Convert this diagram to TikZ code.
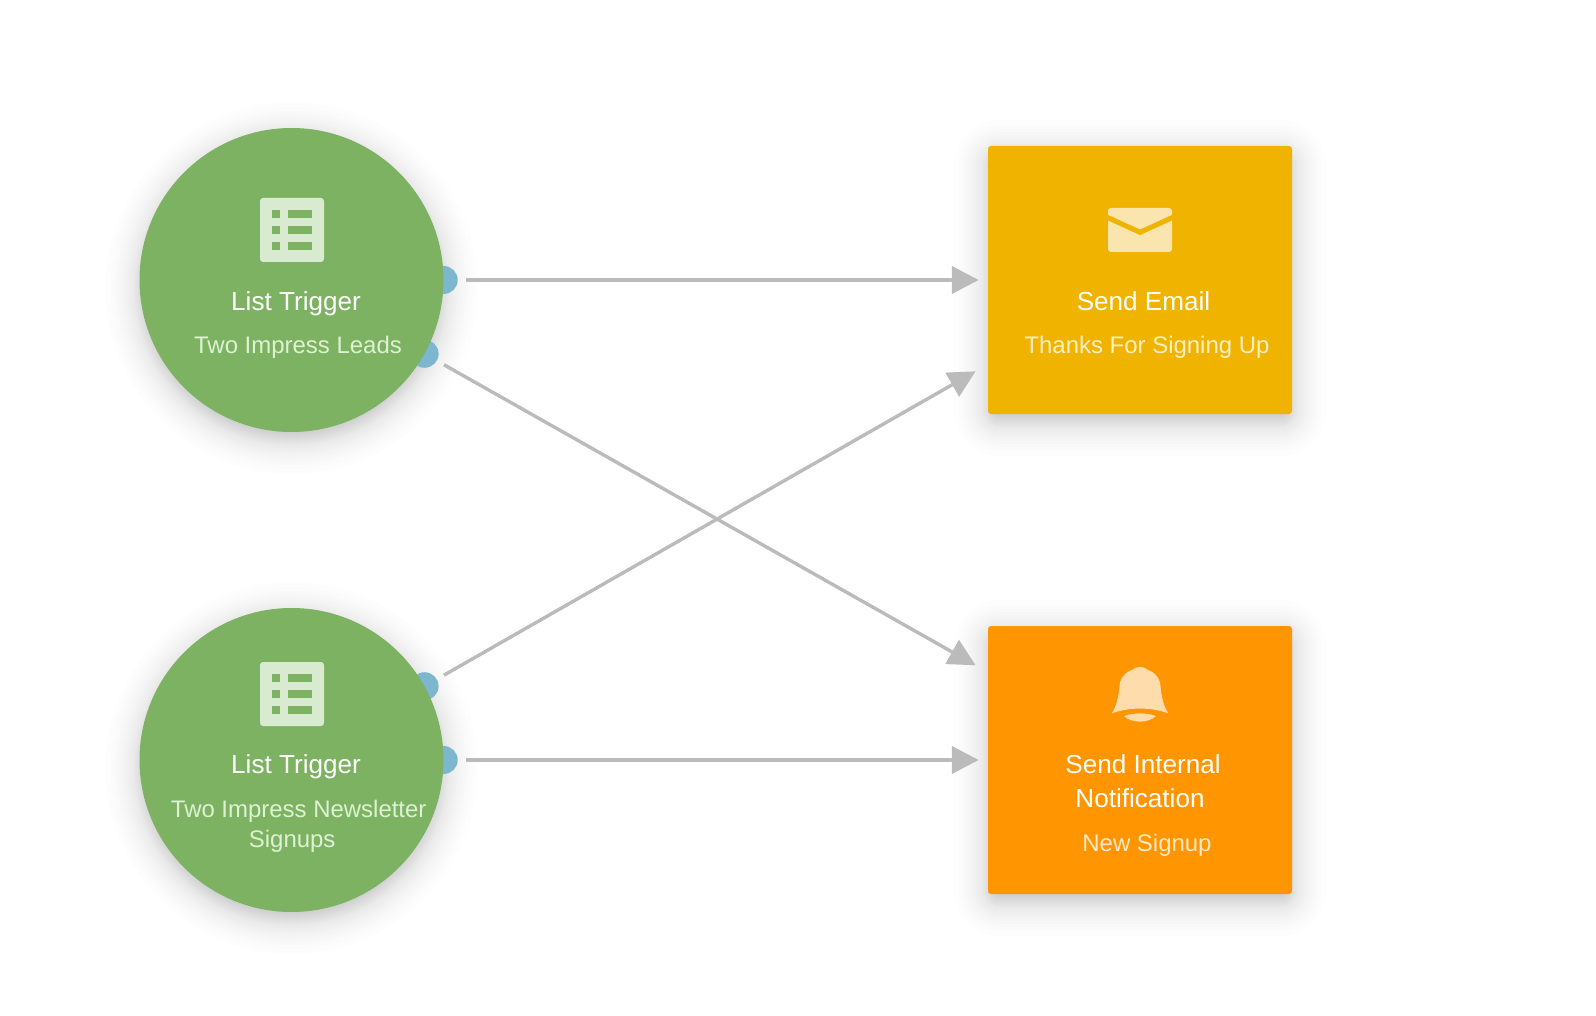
\documentclass[tikz,border=0pt]{standalone}
\usepackage{fontspec}
\setmainfont{Liberation Sans}
\usepackage{xcolor}
\usetikzlibrary{positioning, backgrounds}
\usetikzlibrary{arrows.meta}
\tikzset{>={Triangle[width=27pt,length=27pt]}}
\definecolor{triggergreen}{HTML}{7CB261}
\definecolor{mailyellow}{HTML}{F0B300}
\definecolor{alertorange}{HTML}{FF9500}
\definecolor{portblue}{HTML}{7CB7CF}
\definecolor{flowgray}{HTML}{BBBBBB}
\definecolor{greenpale}{HTML}{D8EBD0}
\definecolor{yellowpale}{HTML}{FBE5AE}
\definecolor{orangepale}{HTML}{FFDCAB}
\definecolor{notegreen}{HTML}{DDF2D3}
\definecolor{noteyellow}{HTML}{FFF0C4}
\definecolor{noteorange}{HTML}{FFE9C6}

\begin{document}
\begin{tikzpicture}[x=1pt, y=-1pt,
    trigger/.style={circle, fill=triggergreen, inner sep=0pt, minimum size=304pt},
    action/.style={rectangle, rounded corners=3pt, inner sep=0pt, minimum width=304pt, minimum height=268pt},
    port/.style={circle, fill=portblue, inner sep=0pt, minimum size=28pt},
    title/.style={anchor=base, inner sep=0pt, text=white, align=center, font=\fontsize{26.1}{34}\selectfont},
    note/.style={anchor=base, inner sep=0pt, align=center, font=\fontsize{23.95}{30}\selectfont},
    flow/.style={->, draw=flowgray, fill=flowgray, line width=4pt, shorten <=8pt, shorten >=9pt},
    crossflow/.style={flow, line width=3.4pt, shorten >=14pt},
    softshadow/.style={black, opacity=0.007},
    listicon/.pic={
        \fill[greenpale, rounded corners=3pt] (-32,-32) rectangle (32,32);
        \foreach \row in {-20,-4,12} {
            \fill[triggergreen] (-20,\row) rectangle (-12,\row+8);
            \fill[triggergreen] (-4,\row) rectangle (20,\row+8);
        }
    },
    mailicon/.pic={
        \fill[yellowpale, rounded corners=3pt] (-32,-22) rectangle (32,22);
        \draw[mailyellow, line width=5pt] (-34,-13.2) -- (0,2.3) -- (34,-13.2);
    },
    bellicon/.pic={
        \fill[orangepale] (-28.3,19.3) .. controls (-24,13) and (-21.5,4) .. (-20.5,-8)
            .. controls (-20,-18) and (-12,-23) .. (-7,-24.5)
            .. controls (-4,-28) and (4,-28) .. (7,-24.5)
            .. controls (12,-23) and (20,-18) .. (20.5,-8)
            .. controls (21.5,4) and (24,13) .. (28.3,19.3)
            .. controls (10,13) and (-10,13) .. cycle;
        \fill[orangepale] (-16,22) .. controls (-6,18.5) and (6,18.5) .. (16,22)
            .. controls (8,29.5) and (-8,29.5) .. cycle;
    }]

    \path[use as bounding box] (0,0) rectangle (1596,1016);

    %Nodes
    \node[trigger](leads) at (291.5,280){};
    \node[trigger](signups) at (291.5,760){};
    \node[action, fill=mailyellow](email) at (1140,280){};
    \node[action, fill=alertorange](notify) at (1140,760){};

    %Shadows and ports
    \begin{scope}[on background layer]
        \fill[white] (0,0) rectangle (1596,1016);
        \foreach \g in {1,2,3,4,5,6,7,8,9,10,11,12,13,14,15,16,17,18,20,22,24,26,28,31,34,37,41,46} {
            \fill[softshadow] ([yshift=-8pt]leads.center) circle (140+\g);
            \fill[softshadow] ([yshift=-8pt]signups.center) circle (140+\g);
            \fill[softshadow, rounded corners=\g] ([xshift=12pt-\g*1pt, yshift=\g*1pt-20pt]email.north west) rectangle ([xshift=\g*1pt-12pt, yshift=4pt-\g*1pt]email.south east);
            \fill[softshadow, rounded corners=\g] ([xshift=12pt-\g*1pt, yshift=\g*1pt-20pt]notify.north west) rectangle ([xshift=\g*1pt-12pt, yshift=4pt-\g*1pt]notify.south east);
        }
        \node[port](leads_east) at (leads.east){};
        \node[port](leads_low) at (leads.-29.4){};
        \node[port](signups_high) at (signups.29.4){};
        \node[port](signups_east) at (signups.east){};
    \end{scope}

    %Icons
    \pic at (292,230) {listicon};
    \pic at (292,694) {listicon};
    \pic at (1140,230) {mailicon};
    \pic at (1140,694) {bellicon};

    %Texts
    \node[title](leads_title) at (296,310.5){List Trigger};
    \node[note, text=notegreen](leads_note) at (298,353){Two Impress Leads};
    \node[title](signups_title) at (296,773.5){List Trigger};
    \node[note, text=notegreen](signups_note) at (298.7,847.5){Two Impress Newsletter\\\hspace*{-13pt}Signups};
    \node[title](email_title) at (1143.5,310.5){Send Email};
    \node[note, text=noteyellow](email_note) at (1147,353){Thanks For Signing Up};
    \node[title](notify_title) at (1143,807.5){Send Internal\\\hspace*{-6pt}Notification};
    \node[note, text=noteorange](notify_note) at (1147,851){New Signup};

    %Lines
    \draw[flow] (leads_east) -- (email.west);
    \draw[crossflow] (leads_low) -- (notify.150.2);
    \draw[crossflow] (signups_high) -- (email.209.8);
    \draw[flow] (signups_east) -- (notify.west);

\end{tikzpicture}
\end{document}
